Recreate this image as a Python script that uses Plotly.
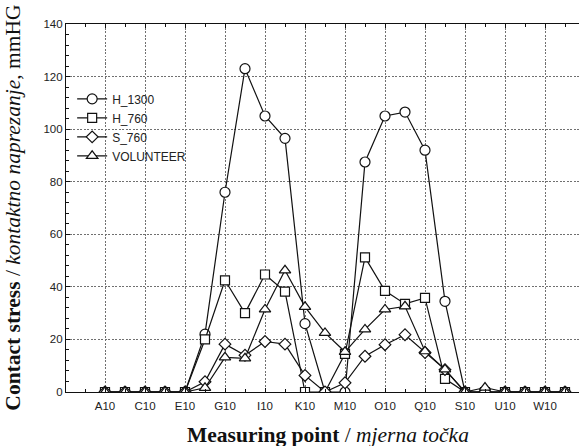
import plotly.graph_objects as go

categories = [c + "10" for c in "ABCDEFGHIJKLMNOPQRSTUVWX"]
tick_labels = ["A10", "C10", "E10", "G10", "I10", "K10", "M10", "O10", "Q10", "S10", "U10", "W10"]

h_1300 = [0, 0, 0, 0, 0, 22, 76, 123, 105, 96.5, 26, 0, 0, 87.5, 105, 106.5, 92, 34.5, 0, 0, 0, 0, 0, 0]
h_760 = [0, 0, 0, 0, 0, 20, 42.5, 30, 44.7, 38.2, 0, 0, 14.5, 51.2, 38.5, 33.5, 35.8, 5, 0, 0, 0, 0, 0, 0]
s_760 = [0, 0, 0, 0, 0, 3.9, 18.2, 14, 19.2, 18.2, 6.3, 0, 3.5, 13.6, 18, 21.8, 15, 8.5, 0, 0, 0, 0, 0, 0]
volunteer = [0, 0, 0, 0, 0, 1.6, 13.2, 12.8, 31.4, 46.3, 32.4, 22.5, 15.3, 23.8, 31.4, 32.6, 15.5, 8.6, 0, 1.7, 0, 0, 0, 0]

series = [
    ("H_1300", h_1300, "circle", 10),
    ("H_760", h_760, "square", 9),
    ("S_760", s_760, "diamond", 9),
    ("VOLUNTEER", volunteer, "triangle-up", 10),
]

xidx = list(range(len(categories)))
tick_pos = [categories.index(t) for t in tick_labels]

fig = go.Figure()
for name, vals, sym, sz in series:
    fig.add_trace(go.Scatter(
        x=xidx, y=vals, name=name, mode="lines+markers",
        line=dict(color="#111111", width=1.2),
        marker=dict(symbol=sym, size=sz, color="white",
                    line=dict(color="#111111", width=1.2)),
        text=categories, cliponaxis=True,
    ))

fig.update_layout(
    width=579, height=446,
    margin=dict(l=66, r=0, t=24, b=54),
    paper_bgcolor="white", plot_bgcolor="white",
    font=dict(family="Liberation Sans, Arial", size=11.5, color="#222222"),
    showlegend=True,
    legend=dict(x=0.012, y=0.836, xanchor="left", yanchor="top",
                bgcolor="rgba(0,0,0,0)", borderwidth=0,
                font=dict(family="Liberation Sans, Arial", size=12, color="#222222")),
    xaxis=dict(
        range=[-1.95, 23.7], tickmode="array", tickvals=tick_pos, ticktext=tick_labels,
        showgrid=True, gridcolor="#707070", griddash="2px,1.5px", gridwidth=1,
        zeroline=False, showline=True, linecolor="#111111", linewidth=1.2,
        mirror="ticks", ticks="inside", ticklen=4, tickcolor="#111111",
        ticklabelstandoff=3,
        minor=dict(tickmode="linear", tick0=0, dtick=1, ticks="inside", ticklen=3,
                   tickcolor="#111111", showgrid=False),
        tickfont=dict(size=11.5),
    ),
    yaxis=dict(
        range=[0, 140], tickmode="linear", tick0=0, dtick=20,
        showgrid=True, gridcolor="#707070", griddash="2px,1.5px", gridwidth=1,
        zeroline=False, showline=True, linecolor="#111111", linewidth=1.2,
        ticks="inside", ticklen=4, tickcolor="#111111",
        minor=dict(tickmode="linear", tick0=0, dtick=4, ticks="inside", ticklen=3,
                   tickcolor="#111111", showgrid=False),
        tickfont=dict(size=11.5),
    ),
    annotations=[
        dict(text="<b>Measuring point</b> / <i>mjerna točka</i>",
             xref="paper", yref="paper", x=0.51, y=-0.117, xanchor="center", yanchor="middle",
             showarrow=False, font=dict(family="Liberation Serif, Times New Roman", size=21.5, color="#111111")),
        dict(text="<b>Contact stress</b> / <i>kontaktno naprezanje</i>, mmHG",
             xref="paper", yref="paper", x=-0.104, y=0.5, xanchor="center", yanchor="middle",
             textangle=-90, showarrow=False,
             font=dict(family="Liberation Serif, Times New Roman", size=21.5, color="#111111")),
    ],
)

fig.write_html("out.html", config={"displayModeBar": False},
               post_script="document.body.style.margin='0';document.body.style.padding='0';")
